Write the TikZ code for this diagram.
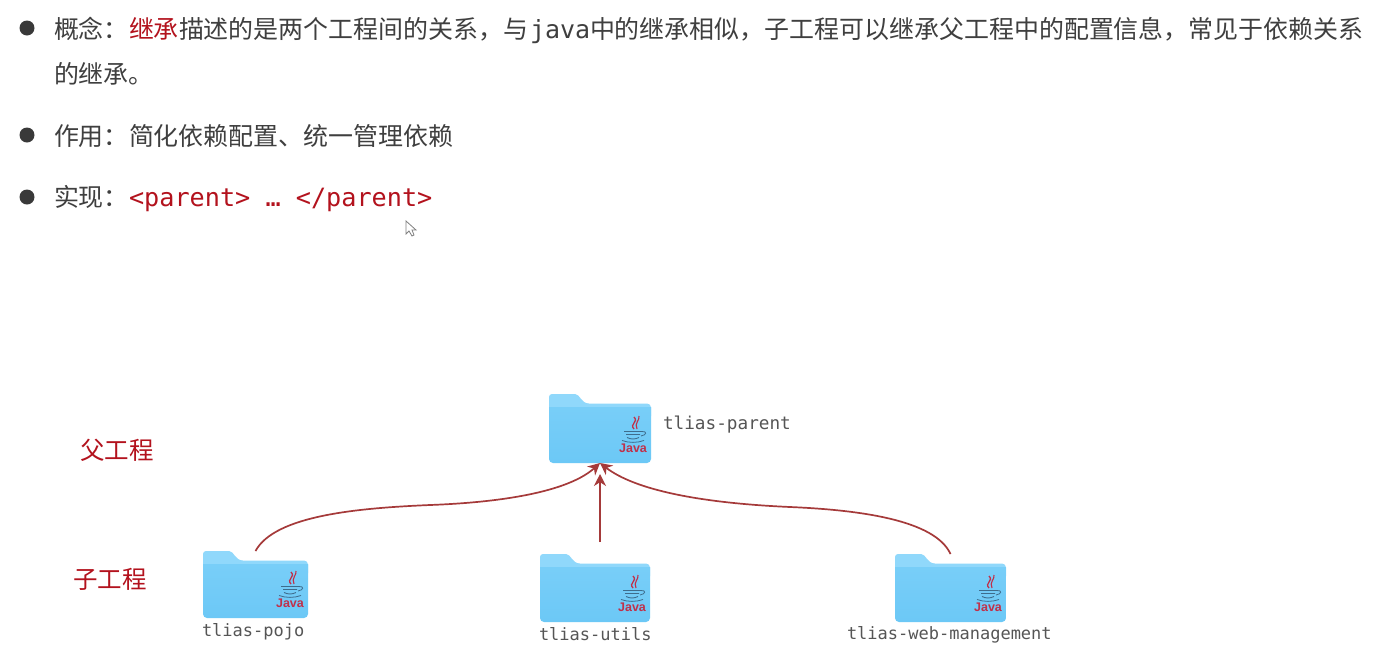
\documentclass[tikz,border=0pt]{standalone}
\usepackage{fontspec}
\setmainfont{Noto Sans CJK SC}
\newfontfamily\cjkf{Noto Sans CJK SC}
\newfontfamily\monof{DejaVu Sans Mono}
\newfontfamily\javaf{Liberation Sans}
\usetikzlibrary{arrows.meta}
\definecolor{txt}{HTML}{3F3F3F}
\definecolor{redt}{HTML}{B3121D}
\definecolor{arrowc}{HTML}{A53A3A}
\definecolor{fbodytop}{HTML}{78CEF8}
\definecolor{fbodybot}{HTML}{6CC8F6}
\definecolor{ftab}{HTML}{90D8FB}
\definecolor{cupc}{HTML}{3E6C8C}
\definecolor{javac}{HTML}{C0304A}
\definecolor{monog}{HTML}{555555}
\newcommand{\fwc}{\char"FF0C\relax}
\newcommand{\fwk}{\char"FF1A\relax}
\tikzset{
  x=1pt,y=-1pt,
  cn/.style={anchor=base west,inner sep=0pt,outer sep=0pt,text=txt,font=\cjkf\fontsize{24.95}{24.95}\selectfont},
  cnred/.style={cn,text=redt},
  mono/.style={anchor=base west,inner sep=0pt,outer sep=0pt,text=txt,font=\monof\fontsize{25}{25}\selectfont},
  monored/.style={mono,text=redt,font=\monof\fontsize{25.2}{25.2}\selectfont},
  flabel/.style={anchor=base west,inner sep=0pt,outer sep=0pt,text=monog,font=\monof\fontsize{17}{17}\selectfont},
  flabelwide/.style={flabel,font=\monof\fontsize{17.7}{17.7}\selectfont},
  bigred/.style={anchor=base west,inner sep=0pt,outer sep=0pt,text=redt,font=\cjkf\fontsize{24.5}{24.5}\selectfont},
  bullet/.style={circle,fill=txt!90!black,minimum size=15pt,inner sep=0pt},
  folderbox/.style={inner sep=0pt,outer sep=0pt,minimum width=#1,rectangle},
  link/.style={draw=arrowc,line width=1.7pt,-{Stealth[length=12pt,width=12pt]}},
  javat/.style={inner sep=0pt,text=javac,font=\javaf\bfseries\fontsize{12.5}{12.5}\selectfont},
}
% #1 name, #2 left, #3 top, #4 width, #5 height
\newcommand{\folderdraw}[5]{%
  \node[folderbox=#4 pt,minimum height=#5 pt,anchor=north west] (#1) at (#2,#3) {};
  \begin{scope}[shift={(#2,#3)}]
    \fill[ftab] (0,3) arc[start angle=180,end angle=270,radius=3] -- (26,0)
      .. controls (31,0) and (32,9.5) .. (40,9.5) -- (#4-4,9.5)
      arc[start angle=-90,end angle=0,radius=4] -- (#4,22) -- (0,22) -- cycle;
    \shade[top color=fbodytop,bottom color=fbodybot] (0,13) -- (#4,13) -- (#4,#5-4)
      arc[start angle=0,end angle=90,radius=4] -- (4,#5)
      arc[start angle=90,end angle=180,radius=4] -- cycle;
    \begin{scope}[shift={(#4-18,#5-19)}]
      \draw[javac,line width=1.3pt] (1,-27) .. controls (6,-22) and (-4,-20) .. (1,-15);
      \draw[javac,line width=1.1pt] (6,-28) .. controls (7,-24) and (1,-21) .. (4,-15);
      \draw[cupc,line width=0.9pt] (-9,-12.5) -- (9,-12.5) (-7,-9.5) -- (7,-9.5)
        (-6,-6.5) .. controls (-2,-4.5) and (2,-4.5) .. (6,-6.5);
      \draw[cupc,line width=0.8pt] (9,-12.5) .. controls (14,-13) and (14,-9) .. (8,-8)
        (-11,-3.5) .. controls (-4,-1) and (4,-1) .. (11,-3.5);
      \node[javat,anchor=base] at (0,8) {Java};
    \end{scope}
  \end{scope}
}
\begin{document}
\begin{tikzpicture}
\useasboundingbox[fill=white] (0,0) rectangle (1389,662);
% bullets
\node[bullet] (b1) at (27,28) {};
\node[bullet] (b2) at (27,135) {};
\node[bullet] (b3) at (27,197) {};
% line 1
\node[cn] (t1) at (54,38) {概念\fwk};
\node[cnred] (t2) at (129,38) {继承};
\node[cn] (t3) at (179,38) {描述的是两个工程间的关系\fwc 与};
\node[mono] (t4) at (530,38) {java};
\node[cn] (t5) at (590,38) {中的继承相似\fwc 子工程可以继承父工程中的配置信息\fwc 常见于依赖关系};
\node[cn] (t6) at (54,83) {的继承。};
% line 2
\node[cn] (t7) at (54,145) {作用\fwk};
\node[cn] (t8) at (129,145) {简化依赖配置、统一管理依赖};
% line 3
\node[cn] (t9) at (54,206) {实现\fwk};
\node[monored] (t10) at (129,206) {<parent> … </parent>};
% cursor
\draw[fill=white,draw=gray,line width=0.8pt] (406,221) -- (406,234) -- (409,231) -- (412,236) -- (414,235) -- (412,230) -- (416,230) -- cycle;
% labels
\node[bigred] (l1) at (80,459) {父工程};
\node[bigred] (l2) at (73,588) {子工程};
% folders
\folderdraw{parent}{549}{394}{102}{69}
\folderdraw{pojo}{203}{551}{105}{67}
\folderdraw{utils}{540}{554}{110}{68}
\folderdraw{web}{895}{554}{111}{68}
\node[flabelwide] (n1) at (663,429) {tlias-parent};
\node[flabel] (n2) at (202,636) {tlias-pojo};
\node[flabel] (n3) at (539,640) {tlias-utils};
\node[flabel] (n4) at (847,639) {tlias-web-management};
% connectors
\coordinate (ubase) at (600,542);
\coordinate (ptop) at (600,474);
\coordinate (mid1) at (430,505);
\coordinate (mid2) at (790,507);
\draw[link] (pojo.north) .. controls (275,515) and (360,508) .. (mid1) .. controls (510,502) and (570,490) .. (parent.south);
\draw[link] (ubase) -- (ptop);
\draw[link] (web.north) .. controls (935,520) and (860,510) .. (mid2) .. controls (700,503) and (635,490) .. (parent.south);
\end{tikzpicture}
\end{document}
